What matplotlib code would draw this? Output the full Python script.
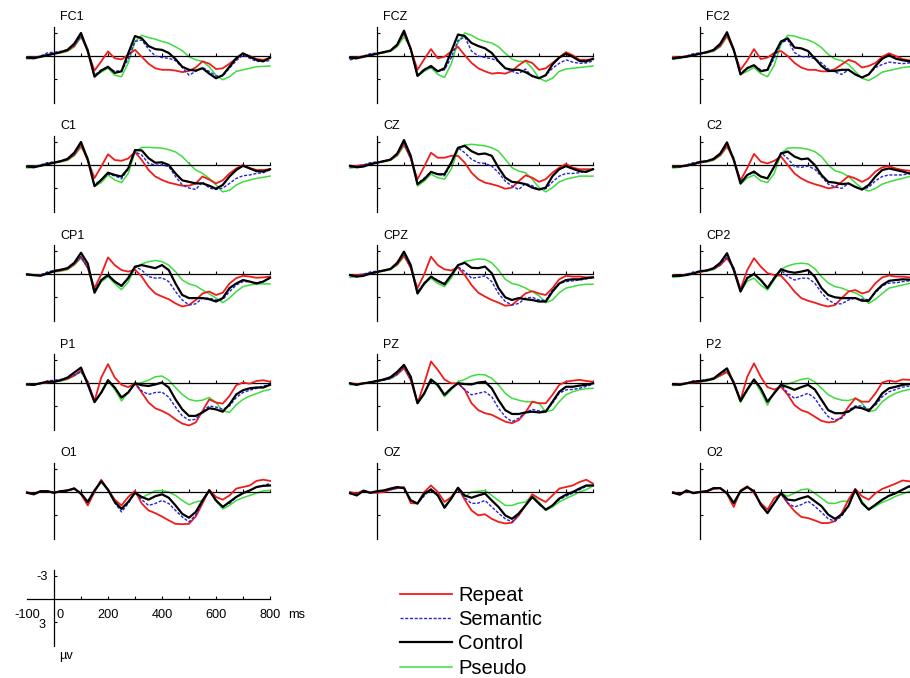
import matplotlib
matplotlib.use('Agg')
import matplotlib.pyplot as plt
from matplotlib.lines import Line2D

plt.rcParams['font.family'] = ['Liberation Sans', 'DejaVu Sans']

# time samples (ms)
T = [-100, -75, -50, -25, 0, 25, 50, 75, 100, 125, 150, 175, 200, 225, 250, 275, 300, 325, 350,
     375, 400, 425, 450, 475, 500, 525, 550, 575, 600, 625, 650, 675, 700, 725, 750, 775, 800]

conditions = ['Repeat', 'Semantic', 'Control', 'Pseudo']
channels = [['FC1', 'FCZ', 'FC2'], ['C1', 'CZ', 'C2'], ['CP1', 'CPZ', 'CP2'],
            ['P1', 'PZ', 'P2'], ['O1', 'OZ', 'O2']]

# amplitudes in microvolts (negative plotted up)
FC1_rep = [0.2,0.2,0.1,-0.1,-0.3,-0.5,-0.7,-1.3,-2.7,-0.6,1.9,0.7,-0.6,0.3,0.45,-0.15,-0.8,0.1,1.0,1.6,1.8,1.8,1.9,2.1,1.95,1.5,0.7,1.0,1.7,1.6,1.0,0.3,-0.3,0.0,0.4,0.5,0.3]
FC1_sem = [0.1,0.2,0.0,-0.4,-0.5,-0.6,-0.8,-1.4,-2.6,-0.8,2.5,1.8,1.5,2.0,1.9,0.4,-1.9,-2.1,-0.9,0.0,0.2,0.3,0.6,1.5,2.5,2.0,1.5,2.0,2.6,2.6,1.6,0.6,-0.1,0.3,0.7,0.7,0.6]
FC1_con = [0.2,0.3,0.1,-0.1,-0.3,-0.5,-0.8,-1.6,-3.0,-0.65,2.7,1.9,1.4,2.2,2.0,-0.35,-2.6,-2.3,-1.3,-0.9,-0.8,-0.4,0.4,1.4,1.8,1.9,1.6,2.3,2.9,2.5,1.4,0.3,-0.35,0.1,0.5,0.7,0.2]
FC1_pse = [0.4,0.3,0.0,-0.2,-0.3,-0.4,-0.6,-1.2,-2.4,-1.0,2.6,2.1,1.6,2.5,2.7,0.9,-1.9,-2.7,-2.4,-2.2,-1.9,-1.65,-1.2,-0.7,0.1,0.5,0.7,1.4,2.5,3.1,2.7,2.0,1.8,1.6,1.4,1.35,1.3]

FCZ_rep = [0.2,0.2,0.0,-0.1,-0.3,-0.5,-0.7,-1.4,-3.0,-0.9,1.8,0.4,-0.9,0.3,0.1,-0.6,-1.2,-0.1,0.9,1.6,2.0,2.3,2.2,2.3,1.95,1.2,0.6,0.9,1.8,1.6,0.9,0.2,-0.5,-0.1,0.5,0.5,0.45]
FCZ_sem = [0.5,0.3,0.0,-0.3,-0.4,-0.5,-0.7,-1.4,-3.0,-0.8,2.5,1.7,1.5,2.0,1.8,0.2,-2.0,-2.5,-0.65,0.0,0.2,0.35,0.7,1.6,2.0,2.3,1.7,2.7,2.9,2.5,1.6,0.95,0.5,0.8,0.95,0.9,0.65]
FCZ_con = [0.2,0.3,0.1,-0.1,-0.3,-0.5,-0.7,-1.5,-3.3,-0.9,2.6,1.8,1.3,2.0,1.6,-0.6,-2.8,-2.6,-1.7,-1.3,-1.0,-0.4,0.7,1.6,1.8,1.8,2.1,2.6,2.9,2.5,1.1,0.2,-0.3,0.1,0.65,0.7,0.35]
FCZ_pse = [0.4,0.3,0.0,-0.2,-0.3,-0.4,-0.6,-1.2,-2.5,-1.0,2.6,2.0,1.5,2.4,2.8,1.0,-1.8,-3.0,-2.7,-2.2,-1.9,-1.7,-1.2,-0.35,0.4,0.7,0.7,1.6,2.9,3.3,2.9,2.0,1.7,1.6,1.5,1.4,1.3]

FC2_rep = [0.1,0.2,0.0,-0.1,-0.3,-0.5,-0.7,-1.3,-2.7,-0.7,1.8,0.6,-0.9,0.4,0.2,-0.4,-0.65,0.0,0.9,1.5,1.8,1.8,2.0,2.0,1.7,1.1,0.5,0.8,1.5,1.3,0.9,0.1,-0.35,0.0,0.4,0.55,0.5]
FC2_sem = [0.4,0.2,0.0,-0.3,-0.4,-0.5,-0.7,-1.4,-2.9,-0.9,2.3,1.5,1.2,1.8,1.9,0.3,-1.7,-2.1,-0.45,0.1,0.1,0.35,0.9,1.7,2.1,2.4,1.8,2.4,2.8,2.4,1.5,1.1,0.8,0.9,1.0,0.9,0.9]
FC2_con = [0.3,0.2,0.1,-0.1,-0.3,-0.5,-0.8,-1.6,-3.1,-0.8,2.4,1.6,1.2,2.0,1.8,-0.2,-1.9,-2.3,-1.1,-1.0,-0.65,0.3,1.3,1.95,1.95,1.8,1.8,2.4,2.8,2.4,1.3,0.35,-0.1,0.35,0.55,0.7,0.5]
FC2_pse = [0.4,0.3,0.0,-0.2,-0.3,-0.4,-0.6,-1.2,-2.5,-1.0,2.4,2.0,1.5,2.3,2.7,1.2,-1.5,-2.7,-2.6,-2.3,-2.1,-1.7,-1.1,-0.2,0.4,0.6,1.1,2.0,2.9,3.2,2.7,2.1,1.9,1.7,1.5,1.4,1.3]

C1_rep = [0.2,0.2,0.1,-0.1,-0.3,-0.5,-0.7,-1.3,-2.6,-0.6,1.7,0.2,-1.4,-0.65,-0.55,-0.85,-1.7,-0.65,0.65,1.5,1.95,2.3,2.5,2.7,2.7,2.4,1.5,1.9,2.4,2.0,1.1,0.45,0.0,0.4,0.65,0.65,0.55]
C1_sem = [0.1,0.2,0.0,-0.3,-0.4,-0.5,-0.7,-1.4,-2.8,-0.8,2.6,1.9,1.2,1.4,1.8,0.5,-1.7,-1.3,-0.2,0.0,0.0,0.2,1.5,2.6,3.0,3.2,2.2,3.0,3.2,3.0,2.4,1.75,1.4,1.3,1.1,1.0,0.65]
C1_con = [0.2,0.3,0.1,-0.1,-0.3,-0.5,-0.8,-1.6,-3.0,-0.7,2.75,1.95,1.0,1.3,1.5,0.45,-1.95,-1.9,-0.9,-0.3,-0.35,0.0,1.1,2.0,2.2,2.4,2.4,2.7,3.1,2.6,1.5,0.65,0.1,0.45,0.8,0.85,0.55]
C1_pse = [0.4,0.3,0.0,-0.2,-0.3,-0.4,-0.6,-1.2,-2.3,-1.0,2.8,2.3,1.3,1.95,2.3,1.1,-1.7,-2.3,-2.3,-2.25,-2.2,-2.0,-1.7,-1.1,-0.2,0.65,1.1,1.75,2.6,3.5,3.3,2.6,2.2,1.95,1.75,1.6,1.45]

CZ_rep = [0.2,0.1,0.0,-0.1,-0.3,-0.5,-0.7,-1.3,-2.8,-0.8,1.85,0.2,-1.6,-0.95,-0.95,-1.2,-1.2,-0.3,1.0,1.85,2.3,2.5,2.75,3.1,2.95,2.1,1.35,1.65,2.2,1.85,1.0,0.35,-0.15,0.35,0.55,0.55,0.55]
CZ_sem = [0.3,0.2,0.0,-0.3,-0.4,-0.5,-0.7,-1.4,-2.9,-0.9,2.4,1.7,0.9,1.2,1.4,-0.2,-2.25,-1.6,-0.75,-0.3,-0.2,0.15,1.0,2.1,2.75,3.2,2.4,2.7,3.2,3.1,2.2,1.45,1.1,1.1,1.0,0.8,0.55]
CZ_con = [0.1,0.3,0.2,-0.1,-0.3,-0.5,-0.7,-1.5,-3.25,-1.2,2.5,1.85,0.9,1.2,1.2,-0.3,-2.25,-2.5,-1.8,-1.4,-1.5,-1.2,0.35,1.65,2.2,2.3,2.5,2.95,3.2,2.95,1.45,0.55,0.15,0.5,0.8,0.9,0.55]
CZ_pse = [0.4,0.3,0.0,-0.2,-0.3,-0.4,-0.6,-1.2,-2.5,-1.0,2.75,2.1,1.2,1.65,1.85,0.55,-2.0,-2.6,-2.7,-2.6,-2.5,-2.25,-1.8,-0.75,0.35,0.8,1.0,1.85,2.95,3.5,2.95,2.2,1.85,1.65,1.45,1.45,1.45]

C2_rep = [0.1,0.2,0.0,-0.1,-0.3,-0.5,-0.7,-1.3,-2.5,-0.7,2.0,0.4,-1.45,-0.45,-0.2,-0.55,-1.1,0.0,1.1,1.75,2.2,2.5,2.75,3.05,2.9,2.2,1.45,1.75,2.2,1.75,0.85,0.3,0.15,0.45,0.65,0.75,0.8]
C2_sem = [0.3,0.2,0.0,-0.3,-0.4,-0.5,-0.7,-1.4,-2.75,-0.8,2.2,1.3,1.0,1.5,1.7,0.3,-1.6,-0.85,0.2,0.3,0.15,0.55,1.5,2.5,2.85,3.05,2.4,2.9,3.2,2.9,2.05,1.5,1.3,1.3,1.3,1.1,1.0]
C2_con = [0.2,0.2,0.1,-0.1,-0.4,-0.5,-0.8,-1.5,-2.95,-0.65,2.4,1.3,0.85,1.5,1.75,0.2,-1.5,-1.75,-1.1,-0.75,-0.85,0.0,1.3,2.2,2.3,2.5,2.4,2.85,3.2,2.6,1.5,0.65,0.45,0.65,0.85,1.1,1.0]
C2_pse = [0.4,0.3,0.0,-0.2,-0.3,-0.4,-0.6,-1.2,-2.3,-1.0,2.5,1.7,1.3,2.05,2.3,1.1,-1.5,-2.2,-2.25,-2.2,-2.05,-1.75,-1.1,0.0,0.75,1.0,1.5,2.3,3.05,3.4,3.05,2.5,2.2,1.95,1.75,1.5,1.4]

CP1_rep = [0.1,0.1,0.1,-0.1,-0.4,-0.5,-0.7,-1.3,-2.3,-0.8,1.8,0.0,-2.2,-1.2,-0.55,-0.35,-0.6,0.3,1.6,2.5,2.9,3.25,3.8,4.2,4.0,3.35,2.5,2.25,2.7,2.4,1.2,0.5,0.2,0.3,0.45,0.4,0.3]
CP1_sem = [0.0,0.1,0.1,-0.3,-0.5,-0.6,-0.8,-1.4,-2.3,-0.9,2.0,0.8,0.1,0.9,1.6,0.4,-1.0,-0.55,0.3,0.5,0.45,0.95,2.25,3.35,4.0,3.85,3.1,3.1,3.35,3.3,2.25,1.4,0.95,0.95,1.1,0.95,0.5]
CP1_con = [0.0,0.1,0.2,-0.1,-0.4,-0.6,-0.8,-1.5,-2.8,-1.4,2.4,0.75,0.1,0.95,1.5,0.5,-1.0,-1.2,-1.0,-0.8,-1.2,-0.55,1.2,2.7,3.1,3.1,3.1,3.25,3.55,3.1,1.8,1.2,0.75,0.95,1.2,0.95,0.45]
CP1_pse = [0.1,0.2,0.1,-0.2,-0.3,-0.4,-0.6,-1.2,-2.1,-0.9,2.4,1.0,0.3,1.2,2.0,1.0,-0.8,-1.35,-1.65,-1.8,-1.65,-1.2,-0.35,0.75,1.25,1.5,2.05,2.55,3.1,3.7,3.1,2.25,1.6,1.4,1.25,1.25,1.25]

CPZ_rep = [0.1,0.1,0.0,-0.1,-0.3,-0.5,-0.7,-1.3,-2.5,-0.8,1.8,0.0,-2.3,-1.2,-0.65,-0.5,-0.9,0.1,1.4,2.4,2.9,3.35,3.7,4.1,4.0,3.25,2.5,2.2,2.5,2.7,1.8,0.65,0.2,0.3,0.3,0.4,0.4]
CPZ_sem = [0.2,0.2,0.0,-0.3,-0.4,-0.5,-0.7,-1.4,-2.7,-0.9,2.3,1.1,0.3,0.8,1.2,0.1,-1.0,-0.35,0.5,0.4,0.2,0.95,2.5,3.55,4.0,3.8,3.1,3.0,3.35,3.4,2.05,1.2,0.95,0.85,0.75,0.6,0.4]
CPZ_con = [0.1,0.3,0.2,-0.1,-0.3,-0.5,-0.7,-1.5,-2.95,-1.2,2.5,1.2,0.3,0.85,1.3,0.1,-1.2,-1.5,-0.85,-0.8,-1.0,-0.15,1.8,3.0,3.35,3.1,3.25,3.35,3.55,3.55,2.25,1.2,0.75,0.65,0.65,0.5,0.4]
CPZ_pse = [0.4,0.3,0.0,-0.2,-0.3,-0.4,-0.6,-1.2,-2.3,-1.0,2.55,1.3,0.5,1.2,1.6,0.5,-1.1,-1.65,-1.85,-2.0,-1.95,-1.5,-0.55,0.65,1.2,1.4,1.8,2.25,2.8,3.7,3.35,2.4,1.8,1.6,1.4,1.3,1.3]

CP2_rep = [0.1,0.2,0.0,-0.1,-0.3,-0.5,-0.7,-1.2,-2.1,-0.8,1.95,-0.55,-2.1,-1.0,-0.15,0.1,0.2,1.15,2.25,3.1,3.45,3.7,4.0,4.2,4.0,3.1,2.25,2.05,2.5,2.25,1.15,0.4,0.15,0.3,0.3,0.4,0.4]
CP2_sem = [0.3,0.2,0.0,-0.3,-0.4,-0.5,-0.7,-1.3,-2.3,-0.8,2.1,0.4,0.0,0.7,1.7,0.4,-0.55,0.3,0.75,0.5,0.5,1.15,2.4,3.35,3.85,3.85,3.35,3.1,3.25,3.3,2.4,1.5,1.15,1.1,0.95,0.85,0.8]
CP2_con = [0.2,0.2,0.1,-0.1,-0.4,-0.5,-0.8,-1.5,-2.75,-0.55,2.25,0.5,-0.05,0.75,1.8,0.5,-0.65,-0.35,-0.2,-0.35,-0.55,0.3,1.8,2.7,3.0,3.1,3.1,3.1,3.45,3.45,2.25,1.4,0.85,0.75,0.65,0.7,0.7]
CP2_pse = [0.4,0.3,0.0,-0.2,-0.3,-0.4,-0.6,-1.2,-2.1,-0.8,2.25,0.9,0.5,1.4,2.05,0.75,-0.65,-1.1,-1.35,-1.45,-1.35,-0.75,0.3,1.15,1.6,1.8,2.15,2.4,2.9,3.8,3.25,2.5,1.8,1.6,1.4,1.2,1.1]

P1_rep = [0.1,0.2,0.0,-0.1,-0.2,-0.4,-0.6,-1.0,-1.7,-0.2,2.3,-0.75,-2.5,-0.75,0.2,0.5,0.0,1.2,2.5,3.25,3.6,4.05,4.7,5.25,5.5,5.1,3.6,2.1,2.5,2.65,1.65,0.25,-0.1,0.05,-0.3,-0.4,-0.2]
P1_sem = [0.1,0.2,0.0,-0.3,-0.4,-0.5,-0.7,-1.1,-1.5,-0.2,2.4,1.2,-0.4,0.6,1.9,1.1,0.0,1.0,1.45,1.2,1.15,1.8,3.1,4.25,4.8,4.7,3.7,2.95,3.1,3.4,2.95,1.85,1.2,0.9,0.65,0.35,0.15]
P1_con = [0.15,0.2,0.0,-0.2,-0.2,-0.4,-0.75,-1.4,-2.05,0.15,2.45,1.2,-0.4,0.55,1.85,1.2,0.0,0.25,0.35,0.15,-0.1,0.55,2.1,3.4,4.25,4.25,3.8,3.25,3.4,3.7,2.75,1.45,0.9,0.65,0.55,0.55,0.2]
P1_pse = [0.2,0.2,0.0,-0.2,-0.2,-0.3,-0.5,-1.0,-1.5,-0.1,2.5,1.3,-0.3,0.8,2.3,1.2,0.05,-0.1,-0.4,-0.85,-0.95,-0.4,0.55,1.45,2.1,2.3,2.2,1.85,2.5,3.6,3.8,2.8,2.1,1.65,1.35,1.0,0.8]

PZ_rep = [0.0,0.1,0.0,-0.1,-0.3,-0.5,-0.7,-1.2,-2.0,-0.4,2.6,0.0,-2.85,-1.75,-0.5,0.0,0.0,0.85,2.6,3.5,3.9,4.1,4.55,5.0,5.2,4.8,3.8,2.4,2.6,2.6,1.5,0.2,-0.2,-0.35,-0.45,-0.3,-0.2]
PZ_sem = [0.1,0.2,0.0,-0.2,-0.3,-0.4,-0.6,-1.2,-2.2,-0.5,2.5,1.3,-0.4,0.3,1.6,0.7,0.0,0.85,1.5,1.3,1.1,1.75,3.25,4.35,5.0,4.55,3.8,3.4,3.6,3.6,2.6,1.3,0.85,0.8,0.65,0.4,0.15]
PZ_con = [0.0,0.2,0.0,-0.1,-0.3,-0.5,-0.8,-1.5,-2.4,-0.85,2.6,1.3,-0.5,0.2,1.5,0.65,0.0,0.1,0.15,-0.1,-0.2,0.65,2.2,3.5,4.0,4.0,3.8,3.7,3.8,3.7,2.4,1.1,0.45,0.45,0.3,0.2,0.0]
PZ_pse = [0.2,0.2,0.0,-0.2,-0.3,-0.4,-0.6,-1.1,-2.0,-0.6,2.6,1.5,-0.5,0.4,1.75,0.85,-0.2,-0.5,-0.95,-1.15,-1.1,-0.65,0.2,1.3,1.95,2.2,2.4,2.4,2.6,3.7,3.5,2.4,1.5,1.1,0.85,0.7,0.65]

P2_rep = [0.2,0.1,0.0,-0.1,-0.2,-0.4,-0.6,-1.0,-1.5,-0.2,2.2,-0.85,-2.6,-0.85,0.5,0.8,0.45,1.5,2.85,3.5,3.8,4.35,4.9,5.1,5.0,4.4,3.05,1.95,2.4,2.4,1.3,-0.1,-0.35,-0.2,-0.5,-0.45,-0.4]
P2_sem = [0.2,0.1,0.0,-0.3,-0.3,-0.5,-0.7,-1.2,-1.75,-0.2,2.2,0.9,-0.4,0.7,2.5,1.2,0.15,1.3,1.95,1.65,1.3,1.95,3.25,4.35,4.8,4.55,3.5,2.95,2.95,3.4,2.85,1.75,1.1,0.8,0.5,0.35,0.3]
P2_con = [0.1,0.2,0.0,-0.2,-0.3,-0.4,-0.6,-1.3,-1.95,0.0,2.3,0.8,-0.5,0.65,2.4,1.3,0.2,0.5,0.85,0.5,0.2,0.8,2.15,3.5,3.9,3.9,3.7,3.1,3.25,3.6,2.6,1.3,0.65,0.45,0.2,0.1,0.1]
P2_pse = [0.3,0.2,0.0,-0.2,-0.2,-0.3,-0.5,-1.0,-1.4,-0.2,2.5,1.0,-0.45,1.1,2.85,1.1,0.1,0.1,-0.2,-0.5,-0.65,-0.2,0.65,1.5,1.95,2.2,2.25,1.95,2.6,3.7,3.5,2.4,1.75,1.3,1.0,0.8,0.7]

O1_rep = [0.0,0.3,-0.1,-0.1,0.1,-0.1,-0.2,-0.5,0.3,1.75,0.0,-1.6,-0.3,1.0,1.75,0.65,-0.15,1.5,2.4,2.75,3.2,3.7,4.15,4.2,4.15,3.2,1.5,-0.3,0.65,1.0,0.45,-0.45,-0.65,-0.85,-1.45,-1.6,-1.45]
O1_sem = [0.1,0.2,-0.1,-0.1,0.1,-0.1,-0.2,-0.4,0.2,1.4,-0.1,-1.4,-0.3,1.4,2.6,1.5,0.0,1.0,1.75,1.5,1.1,1.5,2.4,3.25,3.9,3.0,1.3,-0.2,1.2,1.85,1.5,0.65,0.15,-0.2,-0.65,-0.85,-1.1]
O1_con = [0.1,0.3,-0.1,-0.1,0.1,-0.1,-0.2,-0.45,0.2,1.3,-0.2,-1.4,-0.3,1.3,2.2,1.3,0.1,0.65,1.0,0.55,0.3,0.75,1.75,2.85,3.35,2.6,1.1,-0.2,1.1,1.95,1.3,0.65,0.15,-0.2,-0.65,-0.8,-0.85]
O1_pse = [0.1,0.2,-0.1,-0.1,0.1,-0.1,-0.2,-0.4,0.2,1.3,-0.1,-1.3,-0.2,1.3,2.2,1.3,0.0,0.75,0.3,-0.15,-0.2,0.0,0.45,1.1,1.65,1.3,1.1,-0.3,1.1,2.2,1.75,1.1,0.75,0.45,0.15,-0.15,-0.2]

OZ_rep = [0.0,0.2,-0.2,0.1,0.1,0.0,-0.3,-0.5,-0.65,1.45,1.5,0.0,-0.85,0.0,1.3,0.65,-0.55,1.0,2.4,3.05,2.9,3.5,3.9,4.1,4.0,3.05,1.75,0.3,0.85,1.3,0.45,-0.45,-0.65,-0.85,-1.3,-1.6,-1.1]
OZ_sem = [0.2,0.3,-0.2,0.1,0.0,-0.2,-0.3,-0.5,-0.5,1.1,1.5,0.5,-0.4,0.4,2.0,0.9,-0.5,0.75,1.5,1.45,1.1,1.95,2.75,3.5,3.9,3.0,1.75,0.65,1.6,2.3,1.75,1.0,0.55,0.15,-0.3,-0.75,-0.85]
OZ_con = [0.15,0.45,-0.15,0.1,-0.1,-0.2,-0.45,-0.65,-0.5,1.1,1.5,0.2,-0.3,0.45,2.05,0.85,-0.55,0.45,0.75,0.45,0.2,1.1,1.95,3.05,3.5,2.8,1.75,0.65,1.5,2.3,1.75,0.85,0.35,0.0,-0.45,-0.85,-0.85]
OZ_pse = [0.2,0.3,-0.2,0.1,0.0,-0.2,-0.3,-0.5,-0.5,1.0,1.5,0.4,-0.4,0.4,1.85,0.9,-0.5,0.65,0.0,-0.1,-0.2,0.45,1.1,1.75,1.75,1.45,1.3,0.45,1.3,2.4,1.95,1.3,0.85,0.45,0.0,-0.3,-0.8]

O2_rep = [0.0,0.3,-0.1,0.1,0.0,-0.1,-0.4,-0.5,0.25,1.95,-0.2,-0.75,0.15,1.45,2.3,0.8,0.25,1.45,2.5,3.25,3.4,3.7,4.05,4.05,3.8,2.75,1.0,-0.4,0.55,1.0,0.15,-0.4,-0.75,-1.1,-1.5,-1.4,-1.2]
O2_sem = [0.1,0.3,-0.2,0.1,0.0,-0.1,-0.5,-0.5,0.15,1.5,-0.1,-0.65,-0.1,1.6,2.7,1.4,0.15,1.45,1.95,1.65,1.2,1.85,2.65,3.5,3.8,3.15,1.8,-0.3,1.45,2.2,1.65,1.0,0.45,0.15,-0.3,-0.65,-0.6]
O2_con = [0.1,0.35,-0.2,0.15,0.0,-0.1,-0.5,-0.5,0.15,1.45,-0.1,-0.65,-0.1,1.65,2.75,1.45,0.15,1.0,1.1,0.8,0.55,1.2,1.85,2.95,3.5,2.95,1.8,-0.3,1.45,2.3,1.65,1.0,0.5,0.15,-0.3,-0.75,-0.7]
O2_pse = [0.1,0.3,-0.2,0.1,0.0,-0.1,-0.5,-0.5,0.15,1.3,-0.1,-0.6,-0.1,1.6,2.65,1.4,0.15,0.55,0.15,-0.3,-0.4,0.15,0.8,1.45,1.5,1.2,1.2,-0.4,1.2,2.3,1.85,1.35,1.0,0.55,0.25,-0.1,-0.2]

waves = {
    'FC1': (FC1_rep, FC1_sem, FC1_con, FC1_pse), 'FCZ': (FCZ_rep, FCZ_sem, FCZ_con, FCZ_pse),
    'FC2': (FC2_rep, FC2_sem, FC2_con, FC2_pse), 'C1': (C1_rep, C1_sem, C1_con, C1_pse),
    'CZ': (CZ_rep, CZ_sem, CZ_con, CZ_pse), 'C2': (C2_rep, C2_sem, C2_con, C2_pse),
    'CP1': (CP1_rep, CP1_sem, CP1_con, CP1_pse), 'CPZ': (CPZ_rep, CPZ_sem, CPZ_con, CPZ_pse),
    'CP2': (CP2_rep, CP2_sem, CP2_con, CP2_pse), 'P1': (P1_rep, P1_sem, P1_con, P1_pse),
    'PZ': (PZ_rep, PZ_sem, PZ_con, PZ_pse), 'P2': (P2_rep, P2_sem, P2_con, P2_pse),
    'O1': (O1_rep, O1_sem, O1_con, O1_pse), 'OZ': (OZ_rep, OZ_sem, OZ_con, OZ_pse),
    'O2': (O2_rep, O2_sem, O2_con, O2_pse),
}
for k, v in waves.items():
    for i, s in enumerate(v):
        assert len(s) == len(T), (k, i, len(s))

scale_xlabels = ['-100', '0', '200', '400', '600', '800']
scale_xpos = [-100, 0, 200, 400, 600, 800]

# styles
styles = {
    'Repeat':   dict(color='#f01c1c', lw=1.3, ls='-', zorder=3),
    'Semantic': dict(color='#2424d8', lw=1.0, ls=(0, (2.2, 1.2)), zorder=4),
    'Control':  dict(color='black', lw=1.6, ls='-', zorder=5),
    'Pseudo':   dict(color='#3fdc3f', lw=1.1, ls='-', zorder=2),
}

W, H = 910, 678
fig = plt.figure(figsize=(W / 100, H / 100), dpi=100)
PXMS = 0.27
PXUV = 7.67
XL = (-110, 815)
YTOP, YBOT = -5.6, 7.2

col_x0 = [54, 377, 700]
row_y0 = [56, 165, 274.3, 383.3, 492]


def make_axes(x0, y0):
    left = x0 + XL[0] * PXMS
    width = (XL[1] - XL[0]) * PXMS
    top = y0 + YTOP * PXUV
    height = (YBOT - YTOP) * PXUV
    ax = fig.add_axes([left / W, 1 - (top + height) / H, width / W, height / H])
    ax.set_xlim(*XL)
    ax.set_ylim(YBOT, YTOP)
    ax.patch.set_visible(False)
    for s in ['top', 'right']:
        ax.spines[s].set_visible(False)
    ax.spines['left'].set_position(('data', 0))
    ax.spines['bottom'].set_position(('data', 0))
    ax.spines['left'].set_bounds(-3.8, 6.1)
    ax.spines['bottom'].set_bounds(-100, 800)
    for s in ['left', 'bottom']:
        ax.spines[s].set_linewidth(0.9)
    ax.set_xticks([100, 200, 300, 400, 500, 600, 700, 800])
    ax.set_yticks([-3, 3])
    ax.tick_params(direction='in', length=2.4, width=0.8, labelbottom=False, labelleft=False)
    return ax


for r, row in enumerate(channels):
    for c, name in enumerate(row):
        ax = make_axes(col_x0[c], row_y0[r])
        for cond, series in zip(conditions, waves[name]):
            ax.plot(T, series, **styles[cond])
        ax.text(22, -5.05, name, fontsize=9, ha='left', va='center')

# scale bar
sax = make_axes(54, 599.3)
for lab, xp in zip(scale_xlabels, scale_xpos):
    xx = 24 if xp == 0 else xp
    sax.text(xx, 2.05, lab, fontsize=9.2, ha='center', va='center')
sax.text(867, 2.05, 'ms', fontsize=9.2, ha='left', va='center')
sax.text(-22, -2.9, '-3', fontsize=9.2, ha='right', va='center')
sax.text(-30, 3.4, '3', fontsize=9.2, ha='right', va='center')
sax.text(20, 7.35, 'µv', fontsize=9.2, ha='left', va='center')

# legend
handles = [Line2D([0], [0], color=styles[c]['color'], lw=styles[c]['lw'],
                  ls=styles[c]['ls']) for c in conditions]
fig.legend(handles, conditions, loc='upper left', bbox_to_anchor=(400 / W, 1 - 586 / H),
           frameon=False, fontsize=14.5, handlelength=2.6, handletextpad=0.3,
           labelspacing=0.26, borderpad=0, borderaxespad=0)

fig.savefig('out.png', dpi=100)
